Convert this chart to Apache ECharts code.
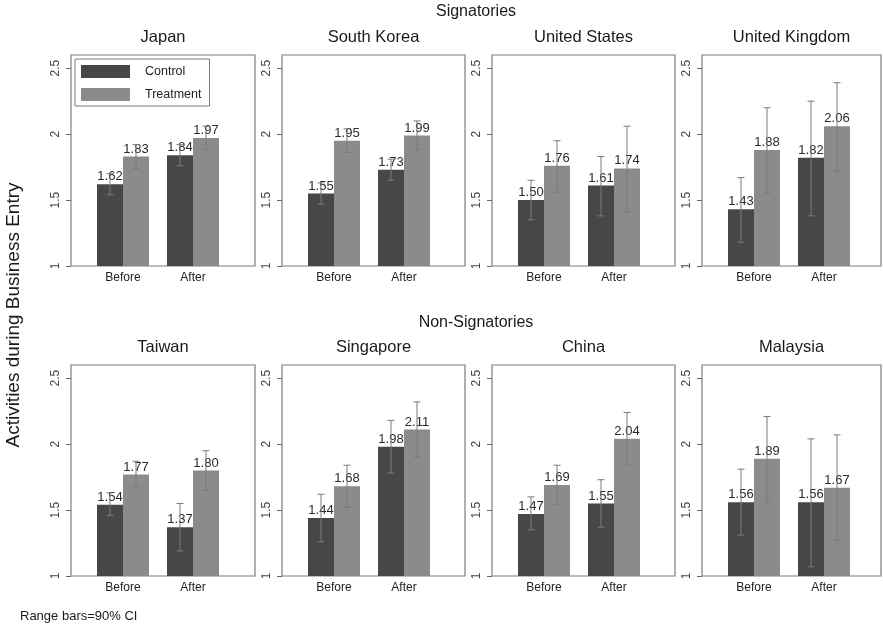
<!DOCTYPE html>
<html>
<head>
<meta charset="utf-8">
<script src="https://cdn.jsdelivr.net/npm/echarts@6/dist/echarts.min.js"></script>
<style>
  html, body { margin: 0; padding: 0; background: #ffffff; }
  #chart { width: 883px; height: 631px; }
</style>
</head>
<body>
<div id="chart"></div>
<script>
// ---- Data ----
const countries = ['Japan', 'South Korea', 'United States', 'United Kingdom',
                   'Taiwan', 'Singapore', 'China', 'Malaysia'];
const rowTitles = ['Signatories', 'Non-Signatories'];
const periods = ['Before', 'After'];
const seriesNames = ['Control', 'Treatment'];

const controlMean = [[1.62, 1.84], [1.55, 1.73], [1.50, 1.61], [1.43, 1.82],
                     [1.54, 1.37], [1.44, 1.98], [1.47, 1.55], [1.56, 1.56]];
const treatMean   = [[1.83, 1.97], [1.95, 1.99], [1.76, 1.74], [1.88, 2.06],
                     [1.77, 1.80], [1.68, 2.11], [1.69, 2.04], [1.89, 1.67]];

// 90% CI bounds
const controlLo = [[1.54, 1.76], [1.47, 1.65], [1.35, 1.38], [1.18, 1.38],
                   [1.46, 1.19], [1.26, 1.78], [1.35, 1.37], [1.31, 1.07]];
const controlHi = [[1.70, 1.92], [1.63, 1.81], [1.65, 1.83], [1.67, 2.25],
                   [1.63, 1.55], [1.62, 2.18], [1.60, 1.73], [1.81, 2.04]];
const treatLo   = [[1.74, 1.88], [1.86, 1.88], [1.56, 1.41], [1.55, 1.72],
                   [1.67, 1.65], [1.52, 1.90], [1.54, 1.84], [1.56, 1.27]];
const treatHi   = [[1.92, 2.06], [2.04, 2.10], [1.95, 2.06], [2.20, 2.39],
                   [1.87, 1.95], [1.84, 2.32], [1.84, 2.24], [2.21, 2.07]];

const yTicks = [1, 1.5, 2, 2.5];
const yMin = 1, yMax = 2.6;
const yAxisTitle = 'Activities during Business Entry';
const footnote = 'Range bars=90% CI';

// ---- Layout / style ----
const FONT = 'Liberation Sans, Arial, Helvetica, sans-serif';
const DARK = '#474747';
const LIGHT = '#8b8b8b';
const ERR = '#7a7a7a';
const FRAME = '#7d7d7d';
const BAR_W = 26;
const panelLeft = [71, 282, 492, 702];
const panelWidth = [184, 183, 183, 179];
const panelTop = [55, 365];
const panelHeight = 211;
const innerPad = 17;   // bar area inset inside frame
const innerWidth = 140;

const grids = [], xAxes = [], yAxes = [], series = [];

countries.forEach((name, p) => {
  const r = Math.floor(p / 4), c = p % 4;
  const fIdx = 2 * p, bIdx = 2 * p + 1;
  grids.push({
    left: panelLeft[c], top: panelTop[r], width: panelWidth[c], height: panelHeight,
    show: true, borderColor: FRAME, borderWidth: 1.2, backgroundColor: 'transparent'
  });
  grids.push({
    left: panelLeft[c] + innerPad, top: panelTop[r], width: innerWidth, height: panelHeight,
    show: false
  });
  xAxes.push({
    type: 'value', gridIndex: fIdx, min: 0, max: 1, position: 'top',
    name: name, nameLocation: 'middle', nameGap: 9,
    nameTextStyle: { fontFamily: FONT, fontSize: 16.5, color: '#1a1a1a' },
    axisLine: { show: false }, axisTick: { show: false },
    axisLabel: { show: false }, splitLine: { show: false }
  });
  xAxes.push({
    type: 'category', gridIndex: bIdx, data: periods,
    axisLine: { show: false }, axisTick: { show: false },
    axisLabel: { fontFamily: FONT, fontSize: 12, color: '#222', margin: 6 },
    splitLine: { show: false }
  });
  yAxes.push({
    type: 'value', gridIndex: fIdx, min: yMin, max: yMax, interval: 0.5,
    axisLine: { show: false },
    axisTick: { show: true, length: 5, lineStyle: { color: '#666' }, customValues: yTicks },
    axisLabel: { rotate: 90, fontFamily: FONT, fontSize: 12, color: '#444', margin: 9,
                 customValues: yTicks, formatter: v => String(v) },
    splitLine: { show: false }
  });
  yAxes.push({
    type: 'value', gridIndex: bIdx, min: yMin, max: yMax, show: false,
    splitLine: { show: false }
  });

  const labelCfg = {
    show: true, position: 'top', distance: 1,
    fontFamily: FONT, fontSize: 13, color: '#2a2a2a',
    formatter: d => d.value.toFixed(2)
  };
  series.push({
    name: seriesNames[0], type: 'bar', xAxisIndex: bIdx, yAxisIndex: bIdx,
    data: controlMean[p], barWidth: BAR_W, barGap: '0%',
    itemStyle: { color: DARK }, label: labelCfg, z: 2
  });
  series.push({
    name: seriesNames[1], type: 'bar', xAxisIndex: bIdx, yAxisIndex: bIdx,
    data: treatMean[p], barWidth: BAR_W, barGap: '0%',
    itemStyle: { color: LIGHT }, label: labelCfg, z: 2
  });
  const errData = [];
  periods.forEach((_, k) => {
    errData.push([k, controlLo[p][k], controlHi[p][k], -1]);
    errData.push([k, treatLo[p][k], treatHi[p][k], 1]);
  });
  series.push({
    type: 'custom', xAxisIndex: bIdx, yAxisIndex: bIdx, z: 5, clip: false,
    silent: true,
    encode: { x: 0, y: [1, 2] },
    data: errData,
    renderItem: (params, api) => {
      const k = api.value(0), lo = api.value(1), hi = api.value(2), side = api.value(3);
      const pLo = api.coord([k, lo]);
      const pHi = api.coord([k, hi]);
      const x = pLo[0] + side * BAR_W / 2;
      const cap = 3.5;
      const st = { stroke: ERR, lineWidth: 1 };
      return {
        type: 'group',
        children: [
          { type: 'line', shape: { x1: x, y1: pHi[1], x2: x, y2: pLo[1] }, style: st },
          { type: 'line', shape: { x1: x - cap, y1: pHi[1], x2: x + cap, y2: pHi[1] }, style: st },
          { type: 'line', shape: { x1: x - cap, y1: pLo[1], x2: x + cap, y2: pLo[1] }, style: st }
        ]
      };
    }
  });
});

const option = {
  backgroundColor: '#ffffff',
  animation: false,
  grid: grids,
  xAxis: xAxes,
  yAxis: yAxes,
  series: series,
  legend: {
    data: seriesNames.map(n => ({ name: n, icon: 'rect' })),
    orient: 'vertical', left: 75, top: 59,
    itemWidth: 49, itemHeight: 13, itemGap: 10,
    padding: [6, 8, 5, 6],
    borderColor: FRAME, borderWidth: 1, backgroundColor: '#ffffff',
    textStyle: { fontFamily: FONT, fontSize: 12.5, color: '#222', padding: [0, 0, 0, 10] },
    selectedMode: false
  },
  graphic: [
    { type: 'text', x: 476, y: 12, style: { text: rowTitles[0], font: '16px ' + FONT, fill: '#1a1a1a', textAlign: 'center', textVerticalAlign: 'middle' } },
    { type: 'text', x: 476, y: 323, style: { text: rowTitles[1], font: '16px ' + FONT, fill: '#1a1a1a', textAlign: 'center', textVerticalAlign: 'middle' } },
    { type: 'text', x: 14, y: 315, rotation: Math.PI / 2, style: { text: yAxisTitle, font: '19px ' + FONT, fill: '#1a1a1a', textAlign: 'center', textVerticalAlign: 'middle' } },
    { type: 'text', x: 20, y: 616, style: { text: footnote, font: '13px ' + FONT, fill: '#1a1a1a', textAlign: 'left', textVerticalAlign: 'middle' } }
  ]
};

const chart = echarts.init(document.getElementById('chart'), null, { renderer: 'canvas' });
chart.setOption(option);
</script>
</body>
</html>
